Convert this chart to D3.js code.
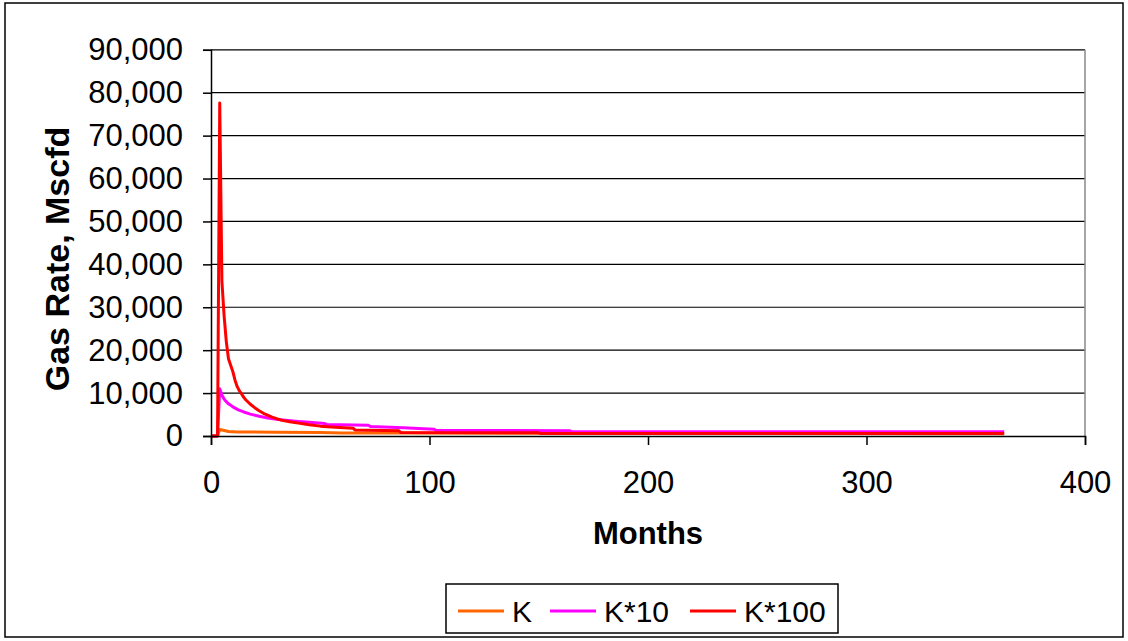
<!DOCTYPE html>
<html>
<head>
<meta charset="utf-8">
<script src="https://cdn.jsdelivr.net/npm/d3@7"></script>
<style>
  html, body { margin: 0; padding: 0; background: #fff; }
  svg { display: block; font-family: "Liberation Sans", Arial, sans-serif; }
</style>
</head>
<body>
<svg id="chart" width="1128" height="641"></svg>
<script>
// [month, gas rate Mscfd]
const rateK = [
  [0, 0], [3, 0], [4, 1500], [5, 1400], [6, 1300], [8, 1050], [12, 950], [30, 900],
  [50, 800], [60, 720], [88, 700], [150, 620], [363, 520],
];
const rateK10 = [
  [0, 0], [3, 0], [4, 11000], [5, 9500], [6, 8600], [7, 8000], [8, 7500], [10, 6800],
  [12.5, 6100], [15, 5600], [18, 5100], [22, 4600], [26, 4200], [30, 3900], [34, 3700],
  [40, 3400], [45, 3200], [52, 2900], [53, 2700], [72, 2500], [73, 2200], [88, 1950],
  [102, 1600], [103, 1300], [164, 1250], [165, 1000], [363, 1000],
];
const rateK100 = [
  [0, 0], [3, 0], [4, 77600], [5, 36000], [6, 28000], [7, 22000], [8, 18000], [9, 16500],
  [10, 15000], [11, 13000], [12, 11500], [13, 10500], [14, 9800], [15, 9000], [16, 8400],
  [18, 7400], [20, 6600], [22, 5900], [24, 5300], [28, 4400], [32, 3700], [36, 3300],
  [40, 3000], [45, 2600], [50, 2300], [55, 2100], [65, 1800], [66, 1400], [86, 1200],
  [87, 800], [150, 750], [151, 560], [363, 560],
];

const seriesNames = ['K', 'K*10', 'K*100'];
const seriesColors = ['#FF6600', '#FF00FF', '#FF0000'];
const xTicks = [0, 100, 200, 300, 400];
const yTicks = [0, 10000, 20000, 30000, 40000, 50000, 60000, 70000, 80000, 90000];

const svg = d3.select('#chart');
const plot = { left: 211, right: 1085, top: 49.8, bottom: 436 };

const x = d3.scaleLinear().domain([0, 400]).range([plot.left, plot.right]);
const y = d3.scaleLinear().domain([0, 90000]).range([plot.bottom, plot.top]);

// chart border
svg.append('rect')
  .attr('x', 5).attr('y', 3).attr('width', 1118).attr('height', 634)
  .attr('fill', 'none').attr('stroke', '#000').attr('stroke-width', 1.5);

// gridlines
svg.append('g')
  .selectAll('line')
  .data(yTicks.slice(1))
  .join('line')
  .attr('x1', plot.left).attr('x2', plot.right)
  .attr('y1', d => y(d)).attr('y2', d => y(d))
  .attr('stroke', '#000').attr('stroke-width', 1.2);

// right edge of plot area
svg.append('line')
  .attr('x1', plot.right).attr('x2', plot.right)
  .attr('y1', plot.top).attr('y2', plot.bottom)
  .attr('stroke', '#888').attr('stroke-width', 1.5);

// series
const line = d3.line().x(d => x(d[0])).y(d => y(d[1]));
[rateK, rateK10, rateK100].forEach((data, i) => {
  svg.append('path')
    .datum(data)
    .attr('d', line)
    .attr('fill', 'none')
    .attr('stroke', seriesColors[i])
    .attr('stroke-width', 3)
    .attr('stroke-linejoin', 'round');
});

// axes
const yAxis = svg.append('g')
  .attr('transform', `translate(${plot.left},0)`)
  .call(d3.axisLeft(y).tickValues(yTicks).tickFormat(d3.format(',')).tickSize(8).tickPadding(20));

const xAxis = svg.append('g')
  .attr('transform', `translate(0,${plot.bottom})`)
  .call(d3.axisBottom(x).tickValues(xTicks).tickSize(9).tickPadding(26));

[yAxis, xAxis].forEach(g => {
  g.select('.domain').attr('stroke', '#000').attr('stroke-width', 1.5);
  g.selectAll('.tick line').attr('stroke', '#000').attr('stroke-width', 1.5);
  g.selectAll('.tick text')
    .attr('fill', '#000')
    .style('font-size', '31px')
    .style('font-family', '"Liberation Sans", Arial, sans-serif');
});

// axis titles
svg.append('text')
  .attr('x', (plot.left + plot.right) / 2).attr('y', 544)
  .attr('text-anchor', 'middle')
  .style('font-size', '31px').style('font-weight', 'bold')
  .text('Months');

svg.append('text')
  .attr('transform', 'translate(69,259) rotate(-90)')
  .attr('text-anchor', 'middle')
  .style('font-size', '34px').style('font-weight', 'bold')
  .text('Gas Rate, Mscfd');

// legend
const legend = svg.append('g');
legend.append('rect')
  .attr('x', 446).attr('y', 584).attr('width', 392).attr('height', 49)
  .attr('fill', '#fff').attr('stroke', '#000').attr('stroke-width', 1.5);

const legendX = [458, 550, 690];
const items = legend.selectAll('g.item')
  .data(seriesNames)
  .join('g')
  .attr('class', 'item')
  .attr('transform', (d, i) => `translate(${legendX[i]},611)`);

items.append('line')
  .attr('x1', 0).attr('x2', 46)
  .attr('stroke', (d, i) => seriesColors[i])
  .attr('stroke-width', 3);

items.append('text')
  .attr('x', 54).attr('y', 10.5)
  .style('font-size', '30px')
  .text(d => d);
</script>
</body>
</html>
